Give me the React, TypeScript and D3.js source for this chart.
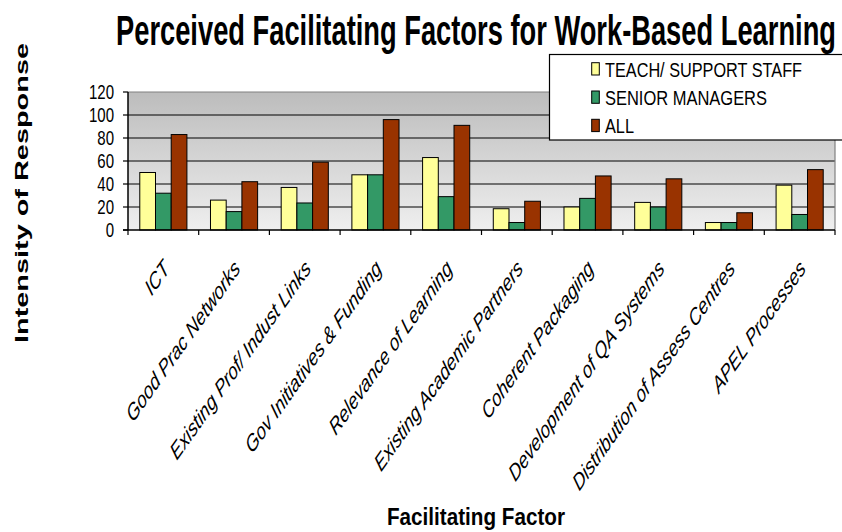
import React from "react";
import * as d3 from "d3";

const categories = [
  "ICT",
  "Good Prac Networks",
  "Existing Prof/ Indust Links",
  "Gov Initiatives & Funding",
  "Relevance of Learning",
  "Existing Academic Partners",
  "Coherent Packaging",
  "Development of QA Systems",
  "Distribution of Assess Centres",
  "APEL Processes",
];
const seriesNames = ["TEACH/ SUPPORT STAFF", "SENIOR MANAGERS", "ALL"];
const teachStaff = [50, 26, 37, 48, 63, 18.5, 20, 24, 6.5, 39];
const seniorManagers = [32, 16, 23.5, 48, 29, 6.5, 27.5, 20, 6.5, 13.5];
const allResp = [83, 42, 59, 96, 91, 25, 47, 44.5, 15, 52.5];
const yTicks = [0, 20, 40, 60, 80, 100, 120];
const colors = ["#FFFF99", "#339966", "#993300"];

const W = 842;
const H = 532;
const PL = 128;
const PR = 835;
const PT = 92;
const PB = 230;
const SX = 0.706;

export default function App() {
  const seriesData = [teachStaff, seniorManagers, allResp];
  const x0 = d3.scaleBand<string>().domain(categories).range([PL, PR]).paddingInner(0).paddingOuter(0);
  const x1 = d3
    .scaleBand<string>()
    .domain(seriesNames)
    .range([0, x0.bandwidth()])
    .paddingInner(0)
    .paddingOuter(0.75);
  const y = d3.scaleLinear().domain([0, 120]).range([PB, PT]);
  const bounds = d3.range(categories.length + 1).map((i) => PL + i * x0.step());

  return (
    <svg
      width={W}
      height={H}
      style={{ position: "absolute", left: 0, top: 0, background: "#fff" }}
      fontFamily="'Liberation Sans', Arial, sans-serif"
    >
      <defs>
        <linearGradient id="bg" x1="0" y1="0" x2="0" y2="1">
          <stop offset="0" stopColor="#bcbcbc" />
          <stop offset="1" stopColor="#efefef" />
        </linearGradient>
      </defs>
      {/* Title */}
      <text
        x={476}
        y={45}
        textAnchor="middle"
        fontSize={42}
        fontWeight="bold"
        textLength={720}
        lengthAdjust="spacingAndGlyphs"
      >
        Perceived Facilitating Factors for Work-Based Learning
      </text>
      {/* plot background */}
      <rect x={PL} y={PT} width={PR - PL} height={PB - PT} fill="url(#bg)" />
      {/* gridlines */}
      {yTicks
        .filter((t) => t > 0 && t < 120)
        .map((t) => (
          <line key={t} x1={PL} x2={PR} y1={y(t)} y2={y(t)} stroke="#000" strokeWidth={1.2} />
        ))}
      <line x1={PL} x2={PR} y1={y(120)} y2={y(120)} stroke="#808080" strokeWidth={1.2} />
      <line x1={PR} x2={PR} y1={PT} y2={PB} stroke="#808080" strokeWidth={1.2} />
      {/* bars */}
      {categories.map((c, i) => (
        <g key={c} transform={`translate(${x0(c)},0)`}>
          {seriesNames.map((s, j) => (
            <rect
              key={s}
              x={x1(s)}
              y={y(seriesData[j][i])}
              width={x1.bandwidth()}
              height={PB - y(seriesData[j][i])}
              fill={colors[j]}
              stroke="#000"
              strokeWidth={1}
            />
          ))}
        </g>
      ))}
      {/* axes */}
      <line x1={PL} x2={PL} y1={PT} y2={PB} stroke="#000" strokeWidth={1.5} />
      <line x1={PL - 5} x2={PR} y1={PB} y2={PB} stroke="#000" strokeWidth={1.5} />
      {yTicks.map((t) => (
        <g key={t}>
          <line x1={PL - 5} x2={PL} y1={y(t)} y2={y(t)} stroke="#000" strokeWidth={1.2} />
          <text
            transform={`translate(${PL - 14},${y(t) + 7}) scale(0.77,1)`}
            textAnchor="end"
            fontSize={19.5}
            fill="#000"
          >
            {t}
          </text>
        </g>
      ))}
      {bounds.map((b, i) => (
        <line key={i} x1={b} x2={b} y1={PB} y2={PB + 5} stroke="#000" strokeWidth={1.2} />
      ))}
      {/* category labels */}
      {categories.map((c) => (
        <text
          key={c}
          transform={`translate(${(x0(c) as number) + x0.bandwidth() / 2 + 7},${270}) scale(${SX},1) rotate(-45)`}
          textAnchor="end"
          fontSize={23.5}
          fontStyle="italic"
          fill="#000"
        >
          {c}
        </text>
      ))}
      {/* axis titles */}
      <text
        x={476}
        y={525}
        textAnchor="middle"
        fontSize={23}
        fontWeight="bold"
        textLength={178}
        lengthAdjust="spacingAndGlyphs"
      >
        Facilitating Factor
      </text>
      <text
        transform={`translate(28,193) rotate(-90)`}
        textAnchor="middle"
        fontSize={18}
        fontWeight="bold"
        textLength={300}
        lengthAdjust="spacingAndGlyphs"
      >
        Intensity of Response
      </text>
      {/* legend */}
      <rect x={549.5} y={54.5} width={310} height={85.5} fill="#fff" stroke="#000" strokeWidth={1.2} />
      {seriesNames.map((s, j) => {
        const ry = 62.7 + j * 28.3;
        const widths = [197, 162, 29];
        return (
          <g key={s}>
            <rect x={591.7} y={ry} width={7.6} height={12.3} fill={colors[j]} stroke="#000" strokeWidth={1} />
            <text
              x={605}
              y={ry + 14}
              fontSize={20.5}
              textLength={widths[j]}
              lengthAdjust="spacingAndGlyphs"
            >
              {s}
            </text>
          </g>
        );
      })}
    </svg>
  );
}
